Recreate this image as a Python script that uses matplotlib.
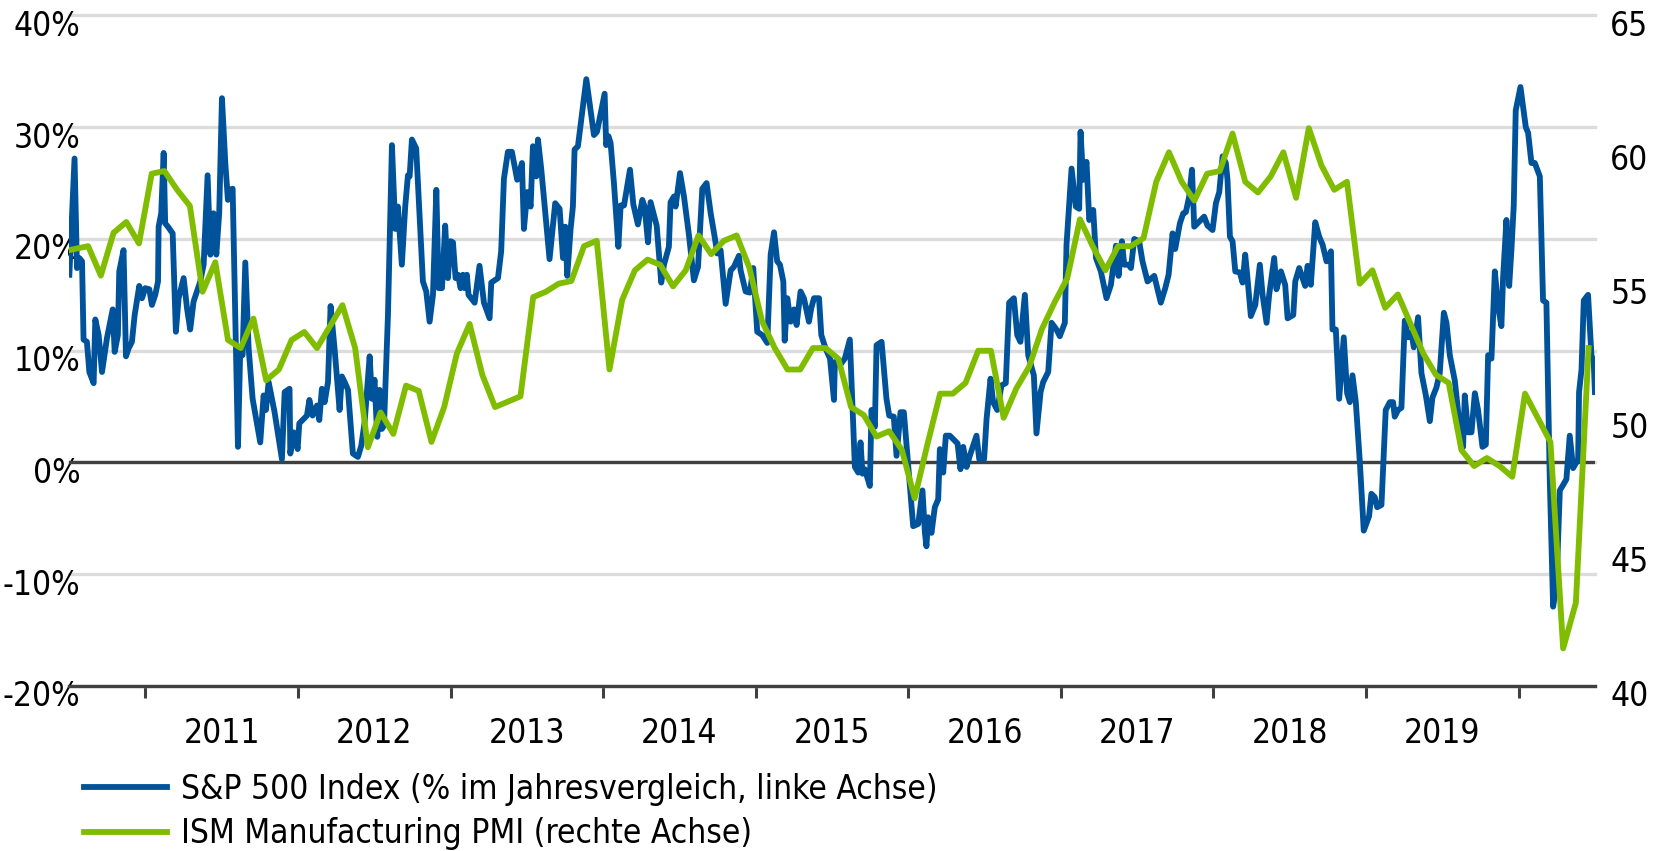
import matplotlib
matplotlib.use("Agg")
import matplotlib.pyplot as plt
from matplotlib import font_manager as fm
import matplotlib.transforms as mtransforms
import numpy as np

# the original uses a condensed face; take one if the machine has it
narrow = None
for f in fm.fontManager.ttflist:
    st = str(f.stretch).lower()
    if ('narrow' in f.name.lower() or 'condensed' in f.name.lower() or 'condensed' in st) \
            and str(f.weight) in ('400', 'normal', 'regular', 'book') and f.style == 'normal':
        narrow = f
        break
if narrow is not None:
    plt.rcParams['font.family'] = [narrow.name, 'DejaVu Sans']
    plt.rcParams['font.stretch'] = narrow.stretch
    FS = 24
else:
    plt.rcParams['font.family'] = ['Liberation Sans', 'DejaVu Sans']
    FS = 22
plt.rcParams['font.size'] = FS

# S&P 500, % change vs. one year earlier (weekly; x in decimal years)
sp_date = [
    2010.502, 2010.536, 2010.552, 2010.567, 2010.585, 2010.595, 2010.617, 2010.633, 2010.661, 2010.672,
    2010.694, 2010.716, 2010.748, 2010.786, 2010.799, 2010.820, 2010.829, 2010.857, 2010.873, 2010.890,
    2010.912, 2010.930, 2010.960, 2010.978, 2010.999,
    2011.026, 2011.043, 2011.065, 2011.083, 2011.087, 2011.104, 2011.120, 2011.130, 2011.148, 2011.179,
    2011.200, 2011.218, 2011.251, 2011.273, 2011.294, 2011.316, 2011.338, 2011.360, 2011.382, 2011.408,
    2011.426, 2011.447, 2011.465, 2011.484, 2011.502, 2011.524, 2011.541, 2011.552, 2011.572, 2011.607,
    2011.622, 2011.637, 2011.655, 2011.677, 2011.703, 2011.753, 2011.775, 2011.790, 2011.808, 2011.847,
    2011.895, 2011.913, 2011.945, 2011.950, 2011.972, 2011.998,
    2012.009, 2012.059, 2012.075, 2012.096, 2012.125, 2012.140, 2012.157, 2012.175, 2012.197, 2012.214,
    2012.240, 2012.273, 2012.288, 2012.306, 2012.328, 2012.360, 2012.393, 2012.415, 2012.437, 2012.470,
    2012.485, 2012.502, 2012.520, 2012.535, 2012.550, 2012.564, 2012.590, 2012.616, 2012.638, 2012.655,
    2012.681, 2012.703, 2012.721, 2012.732, 2012.747, 2012.775, 2012.819, 2012.841, 2012.863, 2012.885,
    2012.907, 2012.922, 2012.944, 2012.965, 2012.983,
    2013.000, 2013.016, 2013.033, 2013.049, 2013.066, 2013.081, 2013.092, 2013.107, 2013.118, 2013.158,
    2013.190, 2013.219, 2013.256, 2013.267, 2013.311, 2013.332, 2013.350, 2013.376, 2013.402, 2013.437,
    2013.468, 2013.481, 2013.503, 2013.525, 2013.540, 2013.562, 2013.573, 2013.595, 2013.649, 2013.686,
    2013.715, 2013.737, 2013.752, 2013.765, 2013.787, 2013.802, 2013.813, 2013.835, 2013.890, 2013.940,
    2013.960,
    2014.010, 2014.020, 2014.035, 2014.049, 2014.071, 2014.100, 2014.115, 2014.137, 2014.176, 2014.198,
    2014.228, 2014.257, 2014.272, 2014.294, 2014.311, 2014.351, 2014.381, 2014.399, 2014.431, 2014.442,
    2014.464, 2014.475, 2014.504, 2014.530, 2014.563, 2014.595, 2014.622, 2014.650, 2014.678, 2014.705,
    2014.731, 2014.748, 2014.770, 2014.803, 2014.836, 2014.857, 2014.890, 2014.901, 2014.934, 2014.962,
    2014.984,
    2015.010, 2015.043, 2015.076, 2015.098, 2015.120, 2015.141, 2015.159, 2015.181, 2015.190, 2015.207,
    2015.229, 2015.251, 2015.268, 2015.294, 2015.316, 2015.349, 2015.364, 2015.382, 2015.415, 2015.430,
    2015.458, 2015.487, 2015.513, 2015.519, 2015.552, 2015.584, 2015.617, 2015.650, 2015.672, 2015.687,
    2015.700, 2015.715, 2015.748, 2015.759, 2015.781, 2015.792, 2015.825, 2015.857, 2015.875, 2015.905,
    2015.923, 2015.949, 2015.971,
    2016.010, 2016.032, 2016.065, 2016.093, 2016.109, 2016.119, 2016.130, 2016.152, 2016.174, 2016.196,
    2016.207, 2016.229, 2016.246, 2016.272, 2016.323, 2016.342, 2016.360, 2016.382, 2016.403, 2016.447,
    2016.465, 2016.497, 2016.513, 2016.539, 2016.556, 2016.583, 2016.611, 2016.639, 2016.661, 2016.692,
    2016.714, 2016.735, 2016.764, 2016.786, 2016.823, 2016.840, 2016.867, 2016.884, 2016.917, 2016.939,
    2016.971, 2016.993,
    2017.026, 2017.037, 2017.070, 2017.098, 2017.120, 2017.129, 2017.146, 2017.168, 2017.186, 2017.212,
    2017.230, 2017.262, 2017.299, 2017.328, 2017.361, 2017.378, 2017.400, 2017.415, 2017.444, 2017.459,
    2017.481, 2017.513, 2017.535, 2017.568, 2017.612, 2017.655, 2017.684, 2017.706, 2017.732, 2017.749,
    2017.780, 2017.802, 2017.819, 2017.841, 2017.859, 2017.874, 2017.918, 2017.939, 2017.961, 2017.994,
    2018.016, 2018.038, 2018.060, 2018.081, 2018.092, 2018.108, 2018.125, 2018.143, 2018.173, 2018.191,
    2018.208, 2018.223, 2018.245, 2018.274, 2018.304, 2018.322, 2018.348, 2018.365, 2018.398, 2018.413,
    2018.442, 2018.470, 2018.486, 2018.523, 2018.536, 2018.562, 2018.584, 2018.601, 2018.617, 2018.638,
    2018.667, 2018.693, 2018.715, 2018.741, 2018.770, 2018.780, 2018.802, 2018.824, 2018.854, 2018.876,
    2018.894, 2018.911, 2018.933, 2018.959, 2018.985,
    2019.020, 2019.035, 2019.057, 2019.073, 2019.101, 2019.129, 2019.156, 2019.177, 2019.188, 2019.210,
    2019.232, 2019.254, 2019.276, 2019.298, 2019.313, 2019.341, 2019.363, 2019.392, 2019.418, 2019.435,
    2019.461, 2019.483, 2019.510, 2019.527, 2019.549, 2019.582, 2019.610, 2019.636, 2019.647, 2019.669,
    2019.691, 2019.713, 2019.734, 2019.763, 2019.785, 2019.800, 2019.822, 2019.844, 2019.866, 2019.887,
    2019.898, 2019.920, 2019.938, 2019.953, 2019.968, 2019.981,
    2020.012, 2020.047, 2020.062, 2020.084, 2020.106, 2020.139, 2020.160, 2020.182, 2020.204, 2020.226,
    2020.248, 2020.270, 2020.292, 2020.313, 2020.335, 2020.357, 2020.390, 2020.396, 2020.412, 2020.427,
    2020.455, 2020.477, 2020.492, 2020.500,
]
sp_yoy = [
    16.8, 27.2, 17.4, 18.3, 18.0, 11.0, 10.8, 8.1, 7.1, 12.8,
    11.4, 8.1, 11.1, 13.7, 9.9, 11.4, 17.1, 19.0, 9.5, 10.2,
    10.8, 13.2, 15.8, 14.7, 15.6,
    15.5, 14.1, 15.0, 16.2, 21.1, 22.3, 27.7, 21.4, 21.1, 20.5,
    11.7, 14.7, 16.5, 13.8, 11.9, 14.4, 15.3, 16.2, 17.7, 25.7,
    18.6, 22.3, 18.6, 22.3, 32.6, 26.8, 23.5, 24.4, 24.5, 1.4,
    10.2, 9.6, 17.9, 10.2, 5.7, 1.8, 6.0, 4.7, 7.2, 4.5,
    0.3, 6.3, 6.6, 0.8, 2.7, 1.2,
    3.5, 4.2, 5.6, 4.2, 5.1, 3.8, 6.6, 5.4, 7.2, 14.0,
    10.2, 4.7, 7.7, 7.2, 6.5, 0.8, 0.5, 1.5, 3.6, 9.5,
    5.7, 7.4, 2.3, 6.5, 3.0, 3.3, 13.2, 28.4, 20.9, 22.9,
    17.7, 22.9, 25.7, 25.6, 28.9, 28.1, 16.2, 15.3, 12.6, 15.0,
    24.4, 15.6, 15.6, 21.2, 16.5,
    19.8, 19.7, 16.5, 16.8, 15.6, 16.8, 15.6, 16.8, 15.0, 14.3,
    17.6, 14.3, 12.9, 16.1, 16.5, 18.9, 25.4, 27.8, 27.8, 25.3,
    26.8, 20.9, 24.2, 22.9, 28.3, 25.6, 28.9, 26.2, 18.2, 23.2,
    22.7, 18.3, 21.1, 16.7, 20.9, 22.9, 28.0, 28.3, 34.3, 29.3,
    29.6,
    33.0, 28.4, 29.2, 28.6, 25.0, 19.3, 23.0, 23.0, 26.2, 23.1,
    21.3, 23.5, 22.9, 19.7, 23.3, 21.2, 16.1, 17.7, 19.3, 23.3,
    23.8, 22.9, 25.9, 23.8, 20.3, 16.3, 17.5, 24.5, 25.0, 22.3,
    20.2, 18.7, 19.0, 14.2, 17.2, 17.5, 18.5, 17.2, 15.3, 15.2,
    17.4,
    11.7, 11.4, 10.7, 18.6, 20.6, 18.0, 17.7, 16.2, 10.9, 14.7,
    12.6, 13.7, 12.3, 15.3, 14.7, 12.6, 13.8, 14.7, 14.7, 11.4,
    10.2, 9.3, 5.6, 9.0, 8.7, 9.3, 11.0, -0.4, -0.9, 1.8,
    -1.0, -0.6, -2.1, 4.7, 3.2, 10.5, 10.8, 5.7, 4.2, 4.1,
    0.6, 4.5, 4.5,
    -2.1, -5.7, -5.5, -2.5, -6.3, -7.5, -4.9, -6.3, -4.0, -3.3,
    1.2, -0.9, 2.4, 2.4, 1.7, -0.6, 1.4, -0.4, 0.6, 2.4,
    0.3, 0.3, 3.9, 7.5, 5.4, 4.7, 6.9, 7.1, 14.3, 14.7,
    11.4, 10.8, 15.0, 9.6, 7.8, 2.6, 6.3, 7.2, 8.1, 12.5,
    11.9, 11.3,
    12.5, 19.5, 26.3, 22.9, 22.7, 29.6, 25.3, 26.9, 21.7, 22.6,
    18.3, 17.1, 14.7, 15.9, 19.4, 16.7, 19.8, 17.7, 17.7, 17.4,
    20.0, 19.8, 18.0, 16.2, 16.7, 14.3, 15.6, 16.8, 20.5, 19.1,
    21.4, 22.3, 22.4, 23.8, 26.2, 21.1, 21.7, 22.0, 21.2, 20.8,
    23.2, 24.2, 27.4, 26.8, 25.3, 20.2, 19.8, 17.1, 17.0, 16.1,
    18.6, 16.5, 13.1, 14.1, 17.7, 15.0, 12.5, 15.0, 18.3, 15.5,
    17.1, 15.9, 12.9, 13.2, 16.2, 17.4, 16.5, 15.8, 17.6, 15.9,
    21.5, 20.2, 19.5, 18.0, 18.9, 11.9, 11.9, 5.7, 11.2, 6.2,
    5.4, 7.8, 5.4, 0.1, -6.1,
    -4.8, -2.8, -3.1, -4.0, -3.8, 4.7, 5.4, 5.4, 4.1, 4.7,
    4.9, 12.7, 11.2, 11.6, 10.3, 13.0, 8.0, 6.0, 3.7, 5.8,
    6.7, 8.0, 13.4, 12.5, 9.6, 7.3, 3.7, 1.4, 6.0, 2.7,
    2.7, 6.2, 4.7, 1.4, 1.6, 9.6, 9.3, 17.1, 13.9, 12.2,
    16.5, 21.7, 15.8, 19.1, 23.0, 31.5,
    33.6, 30.0, 29.5, 26.8, 26.8, 25.6, 14.5, 14.3, -1.5, -12.9,
    -11.0, -2.5, -2.0, -1.5, 2.4, -0.5, 0.3, 6.3, 8.3, 14.5,
    15.0, 9.6, 9.0, 6.3,
]

# ISM Manufacturing PMI, monthly from June 2010 to June 2020
pmi = [
    56.2, 56.3, 56.4, 55.3, 56.9, 57.3, 56.5,
    59.1, 59.2, 58.5, 57.9, 54.7, 55.8, 52.9, 52.6, 53.7, 51.4, 51.8, 52.9,
    53.2, 52.6, 53.4, 54.2, 52.6, 48.9, 50.2, 49.4, 51.2, 51.0, 49.1, 50.4,
    52.4, 53.5, 51.6, 50.4, 50.6, 50.8, 54.5, 54.7, 55.0, 55.1, 56.4, 56.6,
    51.8, 54.4, 55.5, 55.9, 55.7, 54.9, 55.5, 56.8, 56.1, 56.6, 56.8, 55.6,
    53.6, 52.6, 51.8, 51.8, 52.6, 52.6, 52.2, 50.4, 50.1, 49.3, 49.5, 48.8,
    47.0, 49.0, 50.9, 50.9, 51.3, 52.5, 52.5, 50.0, 51.1, 51.9, 53.3, 54.3,
    55.2, 57.4, 56.4, 55.5, 56.4, 56.4, 56.7, 58.8, 59.9, 58.8, 58.1, 59.1,
    59.2, 60.6, 58.8, 58.4, 59.0, 59.9, 58.2, 60.8, 59.4, 58.5, 58.8, 55.0,
    55.5, 54.1, 54.6, 53.5, 52.4, 51.6, 51.3, 48.8, 48.2, 48.5, 48.2, 47.8,
    50.9, 50.0, 49.1, 41.4, 43.1, 52.6,
]
# mid-month positions in decimal years, first month = June 2010
pmi_date = 2010 + (5.5 + np.arange(len(pmi))) / 12

years = list(range(2011, 2020))
left_ticks = [-20, -10, 0, 10, 20, 30, 40]
right_ticks = [40, 45, 50, 55, 60, 65]

blue = '#00539b'
green = '#80bc00'
dark = '#404040'

fig = plt.figure(figsize=(16.6, 8.51), dpi=100)
ax = fig.add_axes([0.0416, 0.1939, 0.9192, 0.7879])
ax2 = ax.twinx()

ax.plot(sp_date, sp_yoy, color=blue, lw=4.2, solid_joinstyle='round',
        label='S&P 500 Index (% im Jahresvergleich, linke Achse)')
ax2.plot(pmi_date, pmi, color=green, lw=4.2, solid_joinstyle='round',
         label='ISM Manufacturing PMI (rechte Achse)')

ax.set_xlim(2010.5, 2020.5)
ax.set_ylim(-20, 40)
ax2.set_ylim(40, 65)

# labels hang just under their gridline
lift = mtransforms.ScaledTranslation(0, 4 / 72, fig.dpi_scale_trans)

# left axis
ax.set_yticks(left_ticks)
ax.set_yticklabels([f'{t}%' for t in left_ticks])
ax.tick_params(axis='y', length=0, pad=-8)
for lab in ax.get_yticklabels():
    lab.set_va('top')
    lab.set_transform(lab.get_transform() + lift)
ax.yaxis.grid(True, color='#dcdcdc', lw=2.4)
for gl in ax.get_ygridlines():
    gl.set_clip_on(False)
ax.set_axisbelow(True)
ax.axhline(0, color=dark, lw=2.4, zorder=1.5)

# right axis
ax2.set_yticks(right_ticks)
ax2.tick_params(axis='y', length=0, pad=11)
for lab in ax2.get_yticklabels():
    lab.set_va('top')
    lab.set_transform(lab.get_transform() + lift)

# x axis: ticks at year boundaries, labels in the middle of each year
ax.set_xticks(list(range(2011, 2021)))
ax.set_xticklabels([])
ax.set_xticks([y + 0.5 for y in years], minor=True)
ax.set_xticklabels([str(y) for y in years], minor=True)
ax.tick_params(axis='x', which='major', direction='out', length=8.5, width=2.2, color=dark)
ax.tick_params(axis='x', which='minor', length=0, pad=22)

for a in (ax, ax2):
    for s in ('top', 'left', 'right', 'bottom'):
        a.spines[s].set_visible(False)
ax.spines['bottom'].set_visible(True)
ax.spines['bottom'].set_color(dark)
ax.spines['bottom'].set_linewidth(2.4)

h1, l1 = ax.get_legend_handles_labels()
h2, l2 = ax2.get_legend_handles_labels()
fig.legend(h1 + h2, l1 + l2, loc='upper left', bbox_to_anchor=(0.0506, 0.092),
           frameon=False, handlelength=2.5, handletextpad=0.4, labelspacing=0.35,
           borderpad=0, borderaxespad=0, fontsize=FS)

fig.savefig('out.png', dpi=100)
